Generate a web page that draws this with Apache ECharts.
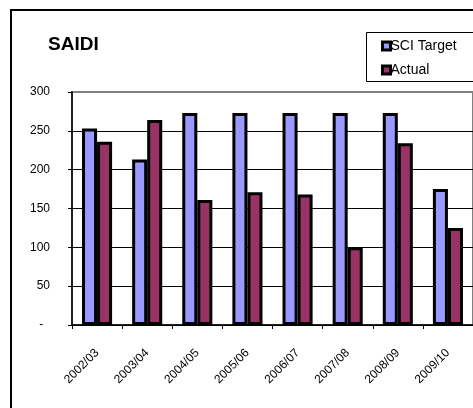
<!DOCTYPE html>
<html>
<head>
<meta charset="utf-8">
<script src="https://cdn.jsdelivr.net/npm/echarts@6/dist/echarts.min.js"></script>
<style>
  html, body { margin: 0; padding: 0; background: #fff; }
  #main { width: 473px; height: 408px; }
</style>
</head>
<body>
<div id="main"></div>
<script>
// 数据
var years = ['2002/03', '2003/04', '2004/05', '2005/06', '2006/07', '2007/08', '2008/09', '2009/10'];
var sciTarget = [253, 213, 273, 273, 273, 273, 273, 175];
var actual = [236, 264, 161, 171, 168, 100, 234, 125];

var chart = echarts.init(document.getElementById('main'));
var font = '"Liberation Sans", Arial, sans-serif';

var option = {
    backgroundColor: '#fff',
    animation: false,
    title: {
        text: 'SAIDI',
        left: 43,
        top: 30,
        textStyle: {
            fontFamily: font,
            fontSize: 19,
            fontWeight: 'bold',
            color: '#000'
        }
    },
    legend: {
        orient: 'vertical',
        left: 376,
        top: 34,
        itemWidth: 8,
        itemHeight: 8,
        itemGap: 10,
        icon: 'rect',
        itemStyle: { borderColor: '#000', borderWidth: 3 },
        textStyle: {
            fontFamily: font,
            fontSize: 14,
            color: '#000',
            padding: [0, 0, 0, -5]
        },
        data: ['SCI Target', 'Actual']
    },
    graphic: [
        {
            type: 'rect',
            shape: { x: 11, y: 10, width: 600, height: 600 },
            style: { fill: 'none', stroke: '#000', lineWidth: 2 },
            silent: true
        },
        {
            type: 'rect',
            shape: { x: 366.5, y: 32.5, width: 200, height: 49 },
            style: { fill: 'none', stroke: '#000', lineWidth: 1 },
            silent: true
        }
    ],
    grid: {
        left: 72,
        right: 0,
        top: 92,
        bottom: 83,
        show: true,
        borderColor: '#808080',
        borderWidth: 2
    },
    xAxis: {
        type: 'category',
        data: years,
        axisLine: { lineStyle: { color: '#000', width: 1.5 } },
        axisTick: { show: true, length: 4, lineStyle: { color: '#000' } },
        axisLabel: {
            rotate: 45,
            margin: 26,
            fontFamily: font,
            fontSize: 12,
            color: '#000'
        }
    },
    yAxis: {
        type: 'value',
        min: 0,
        max: 300,
        interval: 50,
        axisLine: { show: true, lineStyle: { color: '#000', width: 1.5 } },
        axisTick: { show: true, length: 4, lineStyle: { color: '#000' } },
        splitLine: {
            show: true,
            showMaxLine: false,
            lineStyle: { color: '#000', width: 1 }
        },
        axisLabel: {
            margin: 22,
            fontFamily: font,
            fontSize: 12,
            color: '#000',
            formatter: function (v) {
                return v === 0 ? '-  ' : String(v);
            }
        }
    },
    series: [
        {
            name: 'SCI Target',
            type: 'bar',
            data: sciTarget,
            barGap: '0%',
            barCategoryGap: '40%',
            itemStyle: { color: '#9999FF', borderColor: '#000', borderWidth: 3 }
        },
        {
            name: 'Actual',
            type: 'bar',
            data: actual,
            itemStyle: { color: '#993366', borderColor: '#000', borderWidth: 3 }
        }
    ]
};

chart.setOption(option);
</script>
</body>
</html>
